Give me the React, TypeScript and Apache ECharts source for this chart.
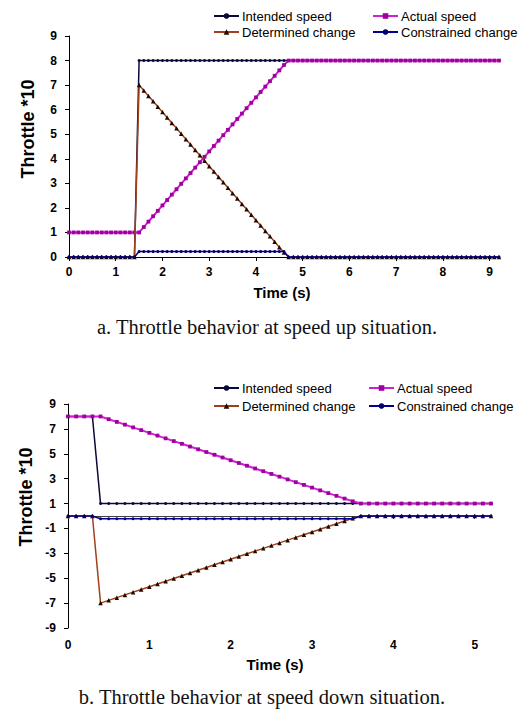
import React, { useEffect, useRef } from "react";
import * as echarts from "echarts";

// ---------- Chart a: speed up ----------
const timeA = [
  0, 0.1, 0.2, 0.3, 0.4, 0.5, 0.6, 0.7, 0.8, 0.9,
  1, 1.1, 1.2, 1.3, 1.4, 1.5, 1.6, 1.7, 1.8, 1.9,
  2, 2.1, 2.2, 2.3, 2.4, 2.5, 2.6, 2.7, 2.8, 2.9,
  3, 3.1, 3.2, 3.3, 3.4, 3.5, 3.6, 3.7, 3.8, 3.9,
  4, 4.1, 4.2, 4.3, 4.4, 4.5, 4.6, 4.7, 4.8, 4.9,
  5, 5.1, 5.2, 5.3, 5.4, 5.5, 5.6, 5.7, 5.8, 5.9,
  6, 6.1, 6.2, 6.3, 6.4, 6.5, 6.6, 6.7, 6.8, 6.9,
  7, 7.1, 7.2, 7.3, 7.4, 7.5, 7.6, 7.7, 7.8, 7.9,
  8, 8.1, 8.2, 8.3, 8.4, 8.5, 8.6, 8.7, 8.8, 8.9,
  9, 9.1, 9.2,
];
const intendedA = [
  0, 0, 0, 0, 0, 0, 0, 0, 0, 0,
  0, 0, 0, 0, 0, 8, 8, 8, 8, 8,
  8, 8, 8, 8, 8, 8, 8, 8, 8, 8,
  8, 8, 8, 8, 8, 8, 8, 8, 8, 8,
  8, 8, 8, 8, 8, 8, 8, 8, 8, 8,
  8, 8, 8, 8, 8, 8, 8, 8, 8, 8,
  8, 8, 8, 8, 8, 8, 8, 8, 8, 8,
  8, 8, 8, 8, 8, 8, 8, 8, 8, 8,
  8, 8, 8, 8, 8, 8, 8, 8, 8, 8,
  8, 8, 8,
];
const actualA = [
  1, 1, 1, 1, 1, 1, 1, 1, 1, 1,
  1, 1, 1, 1, 1, 1, 1.22, 1.44, 1.66, 1.88,
  2.1, 2.32, 2.54, 2.76, 2.98, 3.2, 3.42, 3.64, 3.86, 4.08,
  4.3, 4.52, 4.74, 4.96, 5.18, 5.4, 5.62, 5.84, 6.06, 6.28,
  6.5, 6.72, 6.94, 7.16, 7.38, 7.6, 7.82, 8, 8, 8,
  8, 8, 8, 8, 8, 8, 8, 8, 8, 8,
  8, 8, 8, 8, 8, 8, 8, 8, 8, 8,
  8, 8, 8, 8, 8, 8, 8, 8, 8, 8,
  8, 8, 8, 8, 8, 8, 8, 8, 8, 8,
  8, 8, 8,
];
const determinedA = [
  0, 0, 0, 0, 0, 0, 0, 0, 0, 0,
  0, 0, 0, 0, 0, 7, 6.78, 6.56, 6.34, 6.12,
  5.9, 5.68, 5.46, 5.24, 5.02, 4.8, 4.58, 4.36, 4.14, 3.92,
  3.7, 3.48, 3.26, 3.04, 2.82, 2.6, 2.38, 2.16, 1.94, 1.72,
  1.5, 1.28, 1.06, 0.84, 0.62, 0.4, 0.18, 0, 0, 0,
  0, 0, 0, 0, 0, 0, 0, 0, 0, 0,
  0, 0, 0, 0, 0, 0, 0, 0, 0, 0,
  0, 0, 0, 0, 0, 0, 0, 0, 0, 0,
  0, 0, 0, 0, 0, 0, 0, 0, 0, 0,
  0, 0, 0,
];
const constrainedA = [
  0, 0, 0, 0, 0, 0, 0, 0, 0, 0,
  0, 0, 0, 0, 0, 0.22, 0.22, 0.22, 0.22, 0.22,
  0.22, 0.22, 0.22, 0.22, 0.22, 0.22, 0.22, 0.22, 0.22, 0.22,
  0.22, 0.22, 0.22, 0.22, 0.22, 0.22, 0.22, 0.22, 0.22, 0.22,
  0.22, 0.22, 0.22, 0.22, 0.22, 0.22, 0.22, 0, 0, 0,
  0, 0, 0, 0, 0, 0, 0, 0, 0, 0,
  0, 0, 0, 0, 0, 0, 0, 0, 0, 0,
  0, 0, 0, 0, 0, 0, 0, 0, 0, 0,
  0, 0, 0, 0, 0, 0, 0, 0, 0, 0,
  0, 0, 0,
];
const xTicksA = [0, 1, 2, 3, 4, 5, 6, 7, 8, 9];

// ---------- Chart b: speed down ----------
const timeB = [
  0, 0.1, 0.2, 0.3, 0.4, 0.5, 0.6, 0.7, 0.8, 0.9,
  1, 1.1, 1.2, 1.3, 1.4, 1.5, 1.6, 1.7, 1.8, 1.9,
  2, 2.1, 2.2, 2.3, 2.4, 2.5, 2.6, 2.7, 2.8, 2.9,
  3, 3.1, 3.2, 3.3, 3.4, 3.5, 3.6, 3.7, 3.8, 3.9,
  4, 4.1, 4.2, 4.3, 4.4, 4.5, 4.6, 4.7, 4.8, 4.9,
  5, 5.1, 5.2,
];
const intendedB = [
  8, 8, 8, 8, 1, 1, 1, 1, 1, 1,
  1, 1, 1, 1, 1, 1, 1, 1, 1, 1,
  1, 1, 1, 1, 1, 1, 1, 1, 1, 1,
  1, 1, 1, 1, 1, 1, 1, 1, 1, 1,
  1, 1, 1, 1, 1, 1, 1, 1, 1, 1,
  1, 1, 1,
];
const actualB = [
  8, 8, 8, 8, 8, 7.78, 7.56, 7.34, 7.12, 6.9,
  6.68, 6.46, 6.24, 6.02, 5.8, 5.58, 5.36, 5.14, 4.92, 4.7,
  4.48, 4.26, 4.04, 3.82, 3.6, 3.38, 3.16, 2.94, 2.72, 2.5,
  2.28, 2.06, 1.84, 1.62, 1.4, 1.18, 1, 1, 1, 1,
  1, 1, 1, 1, 1, 1, 1, 1, 1, 1,
  1, 1, 1,
];
const determinedB = [
  0, 0, 0, 0, -7, -6.78, -6.56, -6.34, -6.12, -5.9,
  -5.68, -5.46, -5.24, -5.02, -4.8, -4.58, -4.36, -4.14, -3.92, -3.7,
  -3.48, -3.26, -3.04, -2.82, -2.6, -2.38, -2.16, -1.94, -1.72, -1.5,
  -1.28, -1.06, -0.84, -0.62, -0.4, -0.18, 0, 0, 0, 0,
  0, 0, 0, 0, 0, 0, 0, 0, 0, 0,
  0, 0, 0,
];
const constrainedB = [
  0, 0, 0, 0, -0.22, -0.22, -0.22, -0.22, -0.22, -0.22,
  -0.22, -0.22, -0.22, -0.22, -0.22, -0.22, -0.22, -0.22, -0.22, -0.22,
  -0.22, -0.22, -0.22, -0.22, -0.22, -0.22, -0.22, -0.22, -0.22, -0.22,
  -0.22, -0.22, -0.22, -0.22, -0.22, -0.22, 0, 0, 0, 0,
  0, 0, 0, 0, 0, 0, 0, 0, 0, 0,
  0, 0, 0,
];
const xTicksB = [0, 1, 2, 3, 4, 5];

const seriesNames = ["Intended speed", "Actual speed", "Determined change", "Constrained change"];
const captionA = "a. Throttle behavior at speed up situation.";
const captionB = "b. Throttle behavior at speed down situation.";
const yTitle = "Throttle *10";
const xTitle = "Time (s)";

const STYLES = [
  { line: "#0a0a3a", item: "#0a0a3a", symbol: "circle", size: 3, width: 1.5 },
  { line: "#d020d0", item: "#a000a0", symbol: "rect", size: 3.8, width: 2 },
  { line: "#a0401a", item: "#1a0a00", symbol: "triangle", size: 4.5, width: 1.5 },
  { line: "#000099", item: "#00006a", symbol: "circle", size: 3, width: 1.5 },
];

const FONT = "'Liberation Sans', Arial, sans-serif";

function buildSeries(time: number[], arrays: number[][], axisIdx: number, xIdx: number) {
  return arrays.map((arr, k) => ({
    type: "line",
    name: seriesNames[k],
    xAxisIndex: xIdx,
    yAxisIndex: axisIdx,
    data: time.map((t, i) => [t, arr[i]]),
    symbol: STYLES[k].symbol,
    symbolSize: STYLES[k].size,
    showAllSymbol: true,
    lineStyle: { color: STYLES[k].line, width: STYLES[k].width },
    itemStyle: { color: STYLES[k].item },
    emphasis: { disabled: true },
    z: 2 + k,
  }));
}

const tickLabel = { fontFamily: FONT, fontWeight: "bold" as const, fontSize: 12, color: "#000" };

function legend(left: number, top: number, data: string[], gap: number) {
  return {
    left,
    top,
    orient: "vertical",
    data,
    itemWidth: 25,
    itemHeight: 7,
    itemGap: gap,
    padding: 0,
    selectedMode: false,
    textStyle: { fontFamily: FONT, fontSize: 13, color: "#000", lineHeight: 14, padding: [0, 0, 0, -2] },
  };
}

export default function App() {
  const ref = useRef<HTMLDivElement>(null);
  useEffect(() => {
    const chart = echarts.init(ref.current!, null, { renderer: "svg" });
    const option: any = {
      animation: false,
      backgroundColor: "#fff",
      legend: [
        legend(213, 9, [seriesNames[0], seriesNames[2]], 2),
        legend(372, 9, [seriesNames[1], seriesNames[3]], 2),
        legend(213, 381, [seriesNames[0], seriesNames[2]], 4),
        legend(368, 381, [seriesNames[1], seriesNames[3]], 4),
      ],
      grid: [
        { left: 69, right: 28, top: 36, height: 221 },
        { left: 68, right: 36, top: 404, height: 224 },
      ],
      xAxis: [
        {
          type: "value",
          gridIndex: 0,
          min: 0,
          max: 9.2,
          splitLine: { show: false },
          axisLine: { show: true, lineStyle: { color: "#000", width: 1 } },
          axisTick: { show: true, length: 4, customValues: xTicksA, lineStyle: { color: "#000" } },
          axisLabel: { ...tickLabel, margin: 9, customValues: xTicksA },
        },
        {
          type: "value",
          gridIndex: 1,
          min: 0,
          max: 5.2,
          position: "bottom",
          splitLine: { show: false },
          axisLine: { show: true, onZero: true, lineStyle: { color: "#404040", width: 1 } },
          axisTick: { show: true, length: 3, customValues: xTicksB, lineStyle: { color: "#404040" } },
          axisLabel: { show: false },
        },
        {
          type: "value",
          gridIndex: 1,
          min: 0,
          max: 5.2,
          position: "bottom",
          splitLine: { show: false },
          axisLine: { show: false, onZero: false },
          axisTick: { show: false },
          axisLabel: { ...tickLabel, margin: 11, customValues: xTicksB },
        },
      ],
      yAxis: [
        {
          type: "value",
          gridIndex: 0,
          min: 0,
          max: 9,
          interval: 1,
          splitLine: { show: false },
          axisLine: { show: true, lineStyle: { color: "#000", width: 1 } },
          axisTick: { show: true, length: 4, lineStyle: { color: "#000" } },
          axisLabel: { ...tickLabel, margin: 12 },
        },
        {
          type: "value",
          gridIndex: 1,
          min: -9,
          max: 9,
          interval: 2,
          splitLine: { show: false },
          axisLine: { show: true, onZero: false, lineStyle: { color: "#000", width: 1 } },
          axisTick: { show: true, length: 4, lineStyle: { color: "#000" } },
          axisLabel: { ...tickLabel, margin: 12 },
        },
      ],
      series: [
        ...buildSeries(timeA, [intendedA, actualA, determinedA, constrainedA], 0, 0),
        ...buildSeries(timeB, [intendedB, actualB, determinedB, constrainedB], 1, 1),
      ],
      graphic: [
        {
          type: "text",
          x: 28,
          y: 129,
          rotation: Math.PI / 2,
          style: { text: yTitle, font: `bold 18px ${FONT}`, fill: "#000", align: "center", verticalAlign: "middle" },
        },
        {
          type: "text",
          x: 26,
          y: 497,
          rotation: Math.PI / 2,
          style: { text: yTitle, font: `bold 18px ${FONT}`, fill: "#000", align: "center", verticalAlign: "middle" },
        },
        {
          type: "text",
          x: 282,
          y: 292,
          style: { text: xTitle, font: `bold 15px ${FONT}`, fill: "#000", align: "center", verticalAlign: "middle" },
        },
        {
          type: "text",
          x: 275,
          y: 664,
          style: { text: xTitle, font: `bold 15px ${FONT}`, fill: "#000", align: "center", verticalAlign: "middle" },
        },
        {
          type: "text",
          x: 267,
          y: 327,
          style: { text: captionA, font: `20.5px 'Liberation Serif', 'Times New Roman', serif`, fill: "#111", align: "center", verticalAlign: "middle" },
        },
        {
          type: "text",
          x: 262,
          y: 697,
          style: { text: captionB, font: `20.5px 'Liberation Serif', 'Times New Roman', serif`, fill: "#111", align: "center", verticalAlign: "middle" },
        },
      ],
    };
    chart.setOption(option);
    return () => chart.dispose();
  }, []);
  return (
    <div
      ref={ref}
      style={{ position: "fixed", left: 0, top: 0, width: 527, height: 711, background: "#fff" }}
    />
  );
}
